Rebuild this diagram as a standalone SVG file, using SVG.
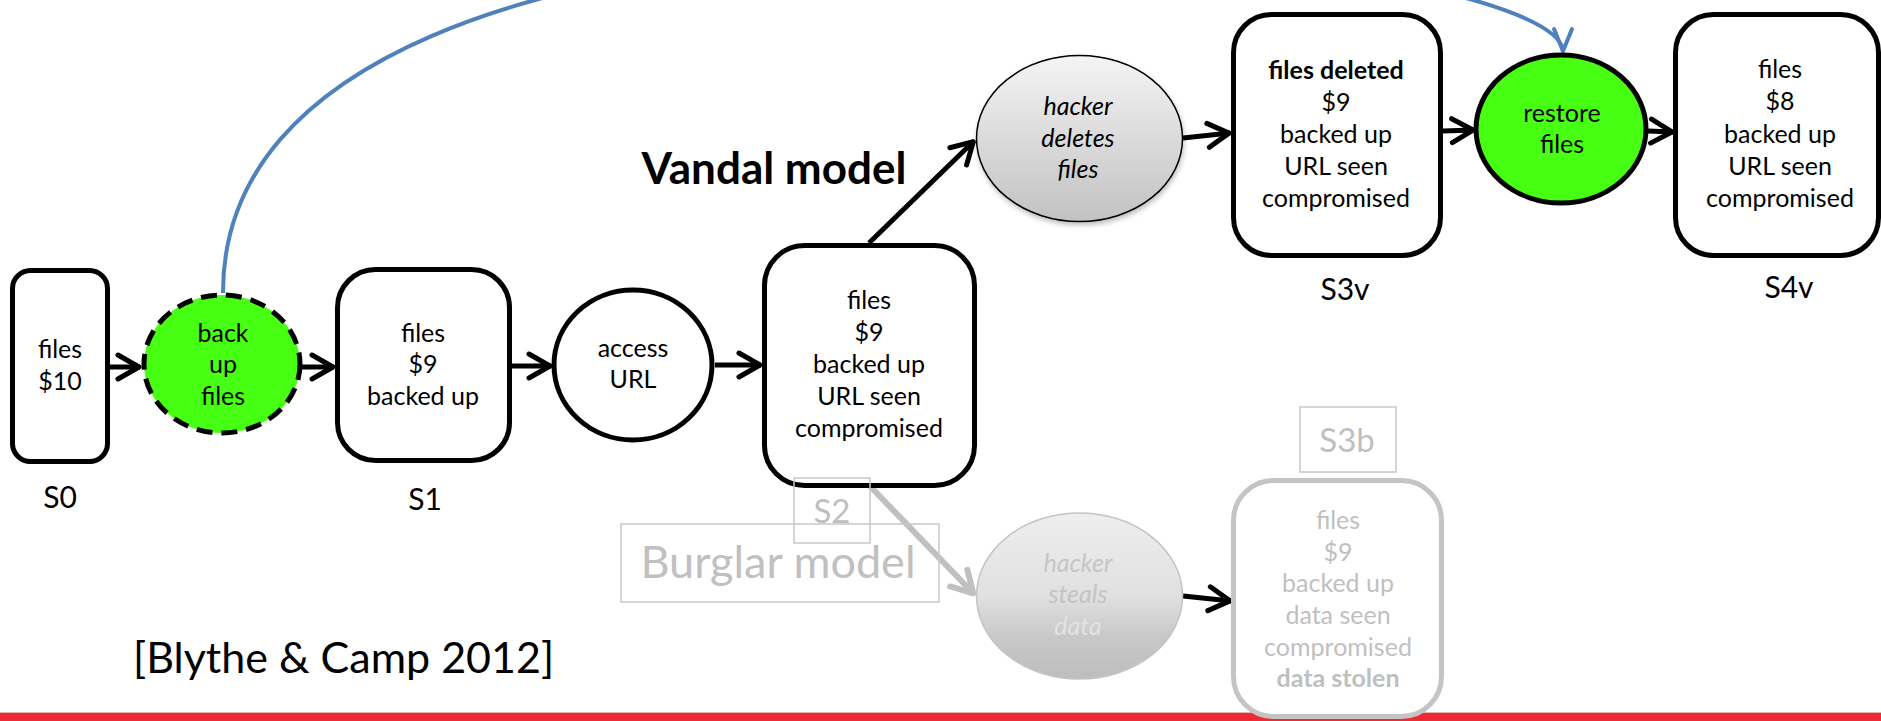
<svg xmlns="http://www.w3.org/2000/svg" width="1881" height="721" viewBox="0 0 1881 721">
<style>
text{font-family:Lato,"Open Sans","Liberation Sans",sans-serif;}
.t{font-size:25px;text-anchor:middle;fill:#000;}
.it{font-style:italic;}
.b{font-weight:bold;}
.lbl{font-size:30px;text-anchor:middle;fill:#000;}
.glbl{font-size:33px;text-anchor:middle;fill:#bfbfbf;}
.gt{font-size:25px;text-anchor:middle;fill:#bfbfbf;}
.st{font-size:25px;font-style:italic;text-anchor:middle;}
.box{fill:#fff;stroke:#000;stroke-width:5;}
.gbox{fill:#fff;stroke:#c4c4c4;stroke-width:5;}
.frame{fill:none;stroke:#c8c8c8;stroke-width:1.5;}
.green{fill:#47ff12;stroke:#000;stroke-width:5;}
.arr{fill:none;stroke:#000;stroke-width:5;marker-end:url(#ah);}
.garr{fill:none;stroke:#c0c0c0;stroke-width:6;marker-end:url(#gah);}
.barr{fill:none;stroke:#4f81bd;stroke-width:4;marker-end:url(#bah);}
</style>
<defs>
<marker id="ah" markerUnits="userSpaceOnUse" viewBox="-26 -16 30 32" markerWidth="30" markerHeight="32" refX="1" refY="0" orient="auto">
<path d="M-21,-12 L0,0 L-21,12" fill="none" stroke="#000" stroke-width="5" stroke-linecap="round" stroke-linejoin="round"/>
</marker>
<marker id="gah" markerUnits="userSpaceOnUse" viewBox="-26 -16 30 32" markerWidth="30" markerHeight="32" refX="1" refY="0" orient="auto">
<path d="M-21,-12 L0,0 L-21,12" fill="none" stroke="#c0c0c0" stroke-width="6" stroke-linecap="round" stroke-linejoin="round"/>
</marker>
<marker id="bah" markerUnits="userSpaceOnUse" viewBox="-26 -14 30 28" markerWidth="30" markerHeight="28" refX="1" refY="0" orient="auto">
<path d="M-22,-9 L0,0 L-22,9" fill="none" stroke="#4f81bd" stroke-width="4" stroke-linecap="round" stroke-linejoin="round"/>
</marker>
<linearGradient id="gd" x1="0" y1="0" x2="0" y2="1">
<stop offset="0" stop-color="#f4f4f4"/>
<stop offset="1" stop-color="#c2c2c2"/>
</linearGradient>
<linearGradient id="gs" x1="0" y1="0" x2="0" y2="1">
<stop offset="0" stop-color="#eeeeee"/>
<stop offset="0.5" stop-color="#e0e0e0"/>
<stop offset="0.75" stop-color="#c8c8c8"/>
<stop offset="1" stop-color="#bdbdbd"/>
</linearGradient>
<filter id="sh" x="-20%" y="-20%" width="140%" height="150%">
<feDropShadow dx="1" dy="3" stdDeviation="2.5" flood-color="#000" flood-opacity="0.25"/>
</filter>
</defs>

<rect id="footer-bar" x="0" y="713" width="1881" height="8" fill="#ee2a35"/>
<line x1="0" y1="712.5" x2="1881" y2="712.5" stroke="#e9b2b5" stroke-width="1"/>

<g id="connectors">
<path class="barr" d="M223,293 C222,-190 1563,-60 1563,52"/>
<line class="arr" x1="110" y1="367" x2="140" y2="367"/>
<line class="arr" x1="302" y1="367" x2="334" y2="367"/>
<line class="arr" x1="512" y1="366" x2="551" y2="366"/>
<line class="arr" x1="715" y1="365" x2="761" y2="365"/>
<line class="arr" x1="869" y1="243" x2="974" y2="141"/>
<line class="arr" x1="1183" y1="138" x2="1230" y2="133"/>
<line class="arr" x1="1443" y1="131" x2="1474" y2="130"/>
<line class="arr" x1="1648" y1="131" x2="1673" y2="132"/>
<line class="arr" x1="1183" y1="596" x2="1231" y2="601"/>
<line class="garr" x1="867" y1="483" x2="974" y2="594"/>
</g>

<g id="S0">
<rect class="box" x="12.5" y="270.5" width="95" height="191" rx="18"/>
<text class="t" x="60" y="358">files</text>
<text class="t" x="60" y="390">$10</text>
<text class="lbl" x="60" y="508">S0</text>
</g>

<g id="backup">
<ellipse cx="222" cy="364" rx="78" ry="69" class="green" stroke-dasharray="16 9"/>
<text class="t" x="223" y="342">back</text>
<text class="t" x="223" y="373">up</text>
<text class="t" x="223" y="405">files</text>
</g>

<g id="S1">
<rect class="box" x="337.5" y="269.5" width="172" height="191" rx="38"/>
<text class="t" x="423" y="342">files</text>
<text class="t" x="423" y="373">$9</text>
<text class="t" x="423" y="405">backed up</text>
<text class="lbl" x="425" y="510">S1</text>
</g>

<g id="access">
<ellipse cx="633" cy="365" rx="79" ry="75" fill="#fff" stroke="#000" stroke-width="5"/>
<text class="t" x="633" y="357">access</text>
<text class="t" x="633" y="388">URL</text>
</g>

<g id="S2">
<rect class="box" x="764.5" y="245.5" width="210" height="240" rx="40"/>
<text class="t" x="869" y="309">files</text>
<text class="t" x="869" y="341">$9</text>
<text class="t" x="869" y="373">backed up</text>
<text class="t" x="869" y="405">URL seen</text>
<text class="t" x="869" y="437">compromised</text>
<rect class="frame" x="794" y="478" width="76" height="65"/>
<text class="glbl" x="832" y="523">S2</text>
</g>

<g id="vandal-title">
<text x="774" y="184" font-size="44" font-weight="bold" text-anchor="middle" fill="#000">Vandal model</text>
</g>

<g id="hacker-deletes">
<ellipse cx="1079.5" cy="138.5" rx="103" ry="83" fill="url(#gd)" stroke="#000" stroke-width="1.5" filter="url(#sh)"/>
<text class="t it" x="1078" y="115">hacker</text>
<text class="t it" x="1078" y="147">deletes</text>
<text class="t it" x="1078" y="178">files</text>
</g>

<g id="S3v">
<rect class="box" x="1233.5" y="14.5" width="207" height="241" rx="38"/>
<text class="t b" x="1336" y="79">files deleted</text>
<text class="t" x="1336" y="111">$9</text>
<text class="t" x="1336" y="143">backed up</text>
<text class="t" x="1336" y="175">URL seen</text>
<text class="t" x="1336" y="207">compromised</text>
<text class="lbl" x="1345" y="300">S3v</text>
</g>

<g id="restore">
<ellipse cx="1561" cy="129" rx="85" ry="74" class="green"/>
<text class="t" x="1562" y="122">restore</text>
<text class="t" x="1562" y="153">files</text>
</g>

<g id="S4v">
<rect class="box" x="1675.5" y="14.5" width="203" height="241" rx="38"/>
<text class="t" x="1780" y="78">files</text>
<text class="t" x="1780" y="110">$8</text>
<text class="t" x="1780" y="143">backed up</text>
<text class="t" x="1780" y="175">URL seen</text>
<text class="t" x="1780" y="207">compromised</text>
<text class="lbl" x="1789" y="298">S4v</text>
</g>

<g id="burglar-title">
<rect class="frame" x="621" y="524" width="318" height="78"/>
<text x="778" y="578" font-size="45" text-anchor="middle" fill="#c0c0c0">Burglar model</text>
</g>

<g id="hacker-steals">
<ellipse cx="1079.5" cy="596" rx="103" ry="83" fill="url(#gs)" stroke="#c4c4c4" stroke-width="1.5"/>
<text class="st" x="1078" y="572" fill="#c6c6c6">hacker</text>
<text class="st" x="1078" y="603" fill="#c4c4c4">steals</text>
<text class="st" x="1078" y="635" fill="#e2e2e2">data</text>
</g>

<g id="S3b">
<rect class="gbox" x="1233.5" y="480.5" width="208" height="236" rx="40"/>
<text class="gt" x="1338" y="529">files</text>
<text class="gt" x="1338" y="561">$9</text>
<text class="gt" x="1338" y="592">backed up</text>
<text class="gt" x="1338" y="624">data seen</text>
<text class="gt" x="1338" y="656">compromised</text>
<text class="gt b" x="1338" y="687" fill="#a9a9a9">data stolen</text>
<rect class="frame" x="1300" y="407" width="96" height="65"/>
<text class="glbl" x="1347" y="452">S3b</text>
</g>

<g id="citation">
<text x="133" y="673" font-size="43" fill="#000">[Blythe &amp; Camp 2012]</text>
</g>
</svg>
